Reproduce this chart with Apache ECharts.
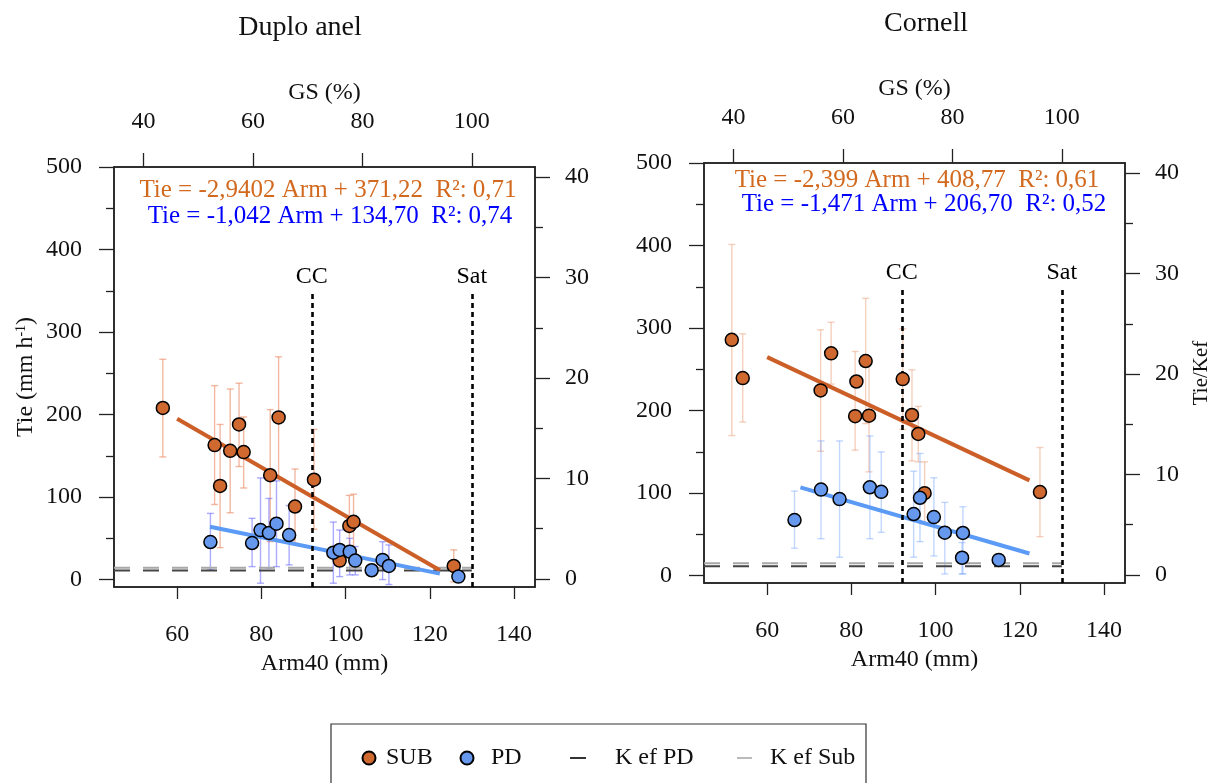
<!DOCTYPE html>
<html>
<head>
<meta charset="utf-8">
<script src="https://cdn.jsdelivr.net/npm/echarts@6/dist/echarts.min.js"></script>
<style>
html,body{margin:0;padding:0;background:#fff;}
#c{width:1213px;height:783px;}
</style>
</head>
<body>
<div id="c"></div>
<script>
// ---------- DATA ----------
const panelTitles = ['Duplo anel', 'Cornell'];
const armTicks = [60, 80, 100, 120, 140];
const gsTicks = [40, 60, 80, 100];
const tieTicks = [0, 100, 200, 300, 400, 500];
const tieMinorTicks = [50, 150, 250, 350, 450];
const ratioTicks = [0, 10, 20, 30, 40];
const ratioMinorTicks = [5, 15, 25, 35];

// Duplo anel - SUB
const dSubArm  = [56.6, 68.9, 70.2, 72.6, 74.7, 75.8, 82.1, 84.1, 88.0, 92.5, 100.9, 101.9, 98.6, 125.7];
const dSubTie  = [208, 163, 113.5, 156, 188, 154.5, 126.5, 196.5, 88.5, 121, 65, 70, 23, 16.5];
const dSubLow  = [148.6, 91, 38.7, 81, 137, 111, 46, 122, 44, 61, 30, 36, null, -2.8];
const dSubHigh = [267, 235, 188, 231, 238, 197, 206, 270, 134, 182, 102, 103.5, null, 36];
// Duplo anel - PD
const dPdArm  = [67.9, 77.8, 79.8, 81.8, 83.6, 86.6, 97.1, 98.6, 101.0, 102.3, 106.2, 108.8, 110.3, 126.8];
const dPdTie  = [45.5, 44.3, 60, 56.5, 67.8, 54, 32.6, 35.9, 33.8, 23, 11.3, 23.8, 16.5, 3.6];
const dPdLow  = [11.7, 15.7, -4.4, 13.8, 15.7, 17.8, -4.4, 3.6, 5.7, 5.7, null, 0, -6, null];
const dPdHigh = [80.2, 74.2, 123.2, 98.3, 119.6, 89.8, 69.7, 60, 50, 40, null, 45.9, 42, null];
// Duplo anel - regression lines (end points) and K ef levels
const dSubLine = [[60, 194.8], [122.4, 11.3]];
const dPdLine  = [[67.8, 64.0], [122.4, 7.2]];
const dKefSub = 14.3, dKefPd = 10.9;

// Cornell - SUB
const cSubArm  = [51.6, 54.2, 72.7, 75.2, 80.9, 81.2, 83.4, 84.2, 92.2, 94.4, 95.9, 97.4, 124.8];
const cSubTie  = [285.7, 239.3, 224.4, 269.3, 193.2, 235.2, 260, 193.8, 238.1, 194.6, 171.6, 99.9, 101.2];
const cSubLow  = [169.7, 186, 150.7, 232, 152, null, 184.2, 125.7, 177, 139, 137.8, 63, 47.1];
const cSubHigh = [401.3, 293, 297.8, 307, 271.6, null, 336, 262, 299, 249.4, 205, 137.8, 155.2];
// Cornell - PD
const cPdArm  = [66.5, 72.8, 77.2, 84.4, 87.1, 94.8, 96.3, 99.6, 102.2, 106.5, 106.3, 115.0];
const cPdTie  = [67.3, 104.2, 92.7, 107, 101.5, 74.6, 94.3, 70.9, 52, 51.6, 21.6, 19];
const cPdLow  = [33.1, 44.7, 22.2, 44.7, 52.4, 22.2, 41.1, 23.8, 2, 2, 2, null];
const cPdHigh = [102.4, 163.2, 163.2, 169.2, 149.9, 126.5, 148, 118.5, 88.7, 83.4, 40, null];
const cSubLine = [[60, 264.8], [122.3, 115.4]];
const cPdLine  = [[67.9, 106.8], [122.3, 26.8]];
const cKefSub = 15.0, cKefPd = 11.2;

// reference lines
const ccArm = 92, satArm = 130, refTop = 346;
const equations = [
  ['Tie = -2,9402 Arm + 371,22  R²: 0,71', 'Tie = -1,042 Arm + 134,70  R²: 0,74'],
  ['Tie = -2,399 Arm + 408,77  R²: 0,61', 'Tie = -1,471 Arm + 206,70  R²: 0,52']
];
const legendNames = ['SUB', 'PD', 'K ef PD', 'K ef Sub'];

// ---------- STYLE ----------
const FONT = 'Liberation Serif';
const C_SUB = '#D0692F', C_PD = '#6699EE';
const C_SUB_LINE = '#CC5F28', C_PD_LINE = '#5B9AF5';
const C_SUB_TXT = '#D2691E', C_PD_TXT = '#0000FF';
const AX = '#222';

const grids = [
  {left: 114, top: 167, width: 421, height: 420},
  {left: 704, top: 163, width: 421, height: 420}
];

const zip = (a, b) => a.map((v, i) => [v, b[i]]);
const errRows = (a, lo, hi) => a.map((v, i) => [v, lo[i], hi[i]]).filter(r => r[1] != null);

function errSeries(name, g, rows, color) {
  return {
    type: 'custom', name: name, xAxisIndex: g * 2, yAxisIndex: g * 4,
    data: rows, encode: {x: 0, y: [1, 2]}, z: 2, silent: true,
    renderItem: function (params, api) {
      const x = api.value(0), lo = api.value(1), hi = api.value(2);
      const p1 = api.coord([x, lo]), p2 = api.coord([x, hi]);
      const w = 3.5;
      const st = {stroke: color, lineWidth: 1.4};
      return {type: 'group', children: [
        {type: 'line', shape: {x1: p1[0], y1: p1[1], x2: p2[0], y2: p2[1]}, style: st},
        {type: 'line', shape: {x1: p1[0] - w, y1: p1[1], x2: p1[0] + w, y2: p1[1]}, style: st},
        {type: 'line', shape: {x1: p2[0] - w, y1: p2[1], x2: p2[0] + w, y2: p2[1]}, style: st}
      ]};
    }
  };
}

function panelSeries(g, d) {
  const xi = g * 2, yi = g * 4;
  return [
    errSeries('errSub' + g, g, errRows(d.subArm, d.subLow, d.subHigh), d.errSubColor),
    errSeries('errPd' + g, g, errRows(d.pdArm, d.pdLow, d.pdHigh), d.errPdColor),
    {
      type: 'line', name: 'K ef Sub', xAxisIndex: xi, yAxisIndex: yi, z: 3,
      data: [[45, d.kefSub], [satArm, d.kefSub]], symbol: 'none', silent: true,
      lineStyle: {color: '#A8A8A8', width: 2, type: [16, 13]}, itemStyle: {color: '#BBBBBB'}
    },
    {
      type: 'line', name: 'K ef PD', xAxisIndex: xi, yAxisIndex: yi, z: 3,
      data: [[45, d.kefPd], [satArm, d.kefPd]], symbol: 'none', silent: true,
      lineStyle: {color: '#444', width: 2, type: [16, 13]}, itemStyle: {color: '#333'},
      markLine: {
        symbol: 'none', silent: true, animation: false,
        lineStyle: {color: '#000', width: 2.6, type: [5, 4]},
        label: {show: true, position: 'end', distance: 5, fontFamily: FONT, fontSize: 24, color: '#000'},
        data: [
          [{coord: [ccArm, -9], label: {formatter: 'CC'}}, {coord: [ccArm, refTop]}],
          [{coord: [satArm, -9], label: {formatter: 'Sat'}}, {coord: [satArm, refTop]}]
        ]
      }
    },
    {
      type: 'line', name: 'regSub' + g, xAxisIndex: xi, yAxisIndex: yi, z: 4,
      data: d.subLine, symbol: 'none', silent: true,
      lineStyle: {color: C_SUB_LINE, width: 4}
    },
    {
      type: 'line', name: 'regPd' + g, xAxisIndex: xi, yAxisIndex: yi, z: 4,
      data: d.pdLine, symbol: 'none', silent: true,
      lineStyle: {color: C_PD_LINE, width: 4}
    },
    {
      type: 'scatter', name: 'SUB', xAxisIndex: xi, yAxisIndex: yi, z: 5,
      data: zip(d.subArm, d.subTie), symbol: 'circle', symbolSize: 13,
      itemStyle: {color: C_SUB, borderColor: '#000', borderWidth: 1.5, opacity: 1}
    },
    {
      type: 'scatter', name: 'PD', xAxisIndex: xi, yAxisIndex: yi, z: 5,
      data: zip(d.pdArm, d.pdTie), symbol: 'circle', symbolSize: 13,
      itemStyle: {color: C_PD, borderColor: '#000', borderWidth: 1.5, opacity: 1}
    }
  ];
}

const labelStyle = {fontFamily: FONT, fontSize: 24, color: '#111'};
const lineStyleAx = {show: true, onZero: false, lineStyle: {color: AX, width: 1.5}};

function axesFor(g) {
  const x = [
    {
      gridIndex: g, type: 'value', position: 'bottom', min: 45, max: 145,
      axisLine: lineStyleAx, splitLine: {show: false},
      axisTick: {show: true, length: 12, customValues: armTicks, lineStyle: {color: AX, width: 1.3}},
      axisLabel: Object.assign({customValues: armTicks, margin: 36}, labelStyle),
      name: 'Arm40 (mm)', nameLocation: 'middle', nameGap: 65,
      nameTextStyle: {fontFamily: FONT, fontSize: 24, color: '#111'}
    },
    {
      gridIndex: g, type: 'value', position: 'top', min: 34.615, max: 111.538,
      axisLine: lineStyleAx, splitLine: {show: false},
      axisTick: {show: true, length: 14, customValues: gsTicks, lineStyle: {color: AX, width: 1.3}},
      axisLabel: Object.assign({customValues: gsTicks, margin: 33}, labelStyle),
      name: 'GS (%)', nameLocation: 'middle', nameGap: 58,
      nameTextStyle: {fontFamily: FONT, fontSize: 24, color: '#111'}
    }
  ];
  const y = [
    {
      gridIndex: g, type: 'value', position: 'left', min: -9, max: 500,
      axisLine: lineStyleAx, splitLine: {show: false},
      axisTick: {show: true, length: 15, customValues: tieTicks, lineStyle: {color: AX, width: 1.3}},
      axisLabel: Object.assign({customValues: tieTicks, margin: 32}, labelStyle),
      name: g === 0 ? '{a|Tie (mm h}{b|-1}{a|)}' : '', nameLocation: 'middle', nameGap: 76,
      nameTextStyle: {
        fontFamily: FONT, fontSize: 24, color: '#111',
        rich: {a: {fontFamily: FONT, fontSize: 24, color: '#111'},
               b: {fontFamily: FONT, fontSize: 14, color: '#111', verticalAlign: 'top', padding: [0, 0, 10, 0]}}
      }
    },
    {
      gridIndex: g, type: 'value', position: 'left', min: -9, max: 500,
      axisLine: {show: false, onZero: false}, splitLine: {show: false},
      axisTick: {show: true, length: 8, customValues: tieMinorTicks, lineStyle: {color: AX, width: 1.3}},
      axisLabel: {show: false, customValues: tieMinorTicks}
    },
    {
      gridIndex: g, type: 'value', position: 'right', min: -0.8, max: 41,
      axisLine: lineStyleAx, splitLine: {show: false},
      axisTick: {show: true, length: 15, customValues: ratioTicks, lineStyle: {color: AX, width: 1.3}},
      axisLabel: Object.assign({customValues: ratioTicks, margin: 30}, labelStyle),
      name: g === 1 ? 'Tie/Kef' : '', nameLocation: 'middle', nameGap: 66,
      nameTextStyle: {fontFamily: FONT, fontSize: 21, color: '#111'}
    },
    {
      gridIndex: g, type: 'value', position: 'right', min: -0.8, max: 41,
      axisLine: {show: false, onZero: false}, splitLine: {show: false},
      axisTick: {show: true, length: 8, customValues: ratioMinorTicks, lineStyle: {color: AX, width: 1.3}},
      axisLabel: {show: false, customValues: ratioMinorTicks}
    }
  ];
  return {x, y};
}

const a0 = axesFor(0), a1 = axesFor(1);

const panel0 = {
  subArm: dSubArm, subTie: dSubTie, subLow: dSubLow, subHigh: dSubHigh,
  pdArm: dPdArm, pdTie: dPdTie, pdLow: dPdLow, pdHigh: dPdHigh,
  subLine: dSubLine, pdLine: dPdLine, kefSub: dKefSub, kefPd: dKefPd,
  errSubColor: 'rgba(232,125,85,0.55)', errPdColor: 'rgba(90,90,255,0.5)'
};
const panel1 = {
  subArm: cSubArm, subTie: cSubTie, subLow: cSubLow, subHigh: cSubHigh,
  pdArm: cPdArm, pdTie: cPdTie, pdLow: cPdLow, pdHigh: cPdHigh,
  subLine: cSubLine, pdLine: cPdLine, kefSub: cKefSub, kefPd: cKefPd,
  errSubColor: 'rgba(232,150,110,0.45)', errPdColor: 'rgba(110,160,255,0.42)'
};

const txt = (x, y, text, size, color) => ({
  type: 'text', x: x, y: y, silent: true,
  style: {text: text, fontFamily: FONT, fontSize: size, fill: color, align: 'center', verticalAlign: 'middle'}
});

// legend: one entry per legend component so each sits where the reference has it
const legendSpec = [
  {name: legendNames[0], left: 361.5, w: 13, h: 13, icon: 'circle', pad: 5.5},
  {name: legendNames[1], left: 459.5, w: 13, h: 13, icon: 'circle', pad: 12.5},
  {name: legendNames[2], left: 570, w: 16, h: 2, icon: 'rect', pad: 24, color: '#333'},
  {name: legendNames[3], left: 737, w: 15, h: 2, icon: 'rect', pad: 13, color: '#BBBBBB'}
];
const legends = legendSpec.map(s => ({
  left: s.left, top: 746, padding: 0, itemGap: 0,
  itemWidth: s.w, itemHeight: s.h,
  data: [s.color ? {name: s.name, icon: s.icon, itemStyle: {color: s.color, borderWidth: 0}}
                 : {name: s.name, icon: s.icon}],
  textStyle: {fontFamily: FONT, fontSize: 24, color: '#111', padding: [0, 0, 0, s.pad]}
}));

const option = {
  animation: false,
  backgroundColor: '#fff',
  grid: grids.map(g => Object.assign({show: true, borderColor: AX, borderWidth: 1.5, backgroundColor: 'transparent'}, g)),
  xAxis: a0.x.concat(a1.x),
  yAxis: a0.y.concat(a1.y),
  legend: legends,
  graphic: [
    txt(300, 28, panelTitles[0], 28, '#111'),
    txt(926, 24, panelTitles[1], 28, '#111'),
    txt(328, 190, equations[0][0], 25, C_SUB_TXT),
    txt(330, 216, equations[0][1], 25, C_PD_TXT),
    txt(917, 180, equations[1][0], 25, C_SUB_TXT),
    txt(924, 204, equations[1][1], 25, C_PD_TXT),
    {type: 'rect', silent: true, shape: {x: 331, y: 724, width: 535, height: 80},
     style: {fill: 'none', stroke: '#333', lineWidth: 1.2}}
  ],
  series: panelSeries(0, panel0).concat(panelSeries(1, panel1))
};

const chart = echarts.init(document.getElementById('c'), null, {renderer: 'canvas'});
chart.setOption(option);
</script>
</body>
</html>
